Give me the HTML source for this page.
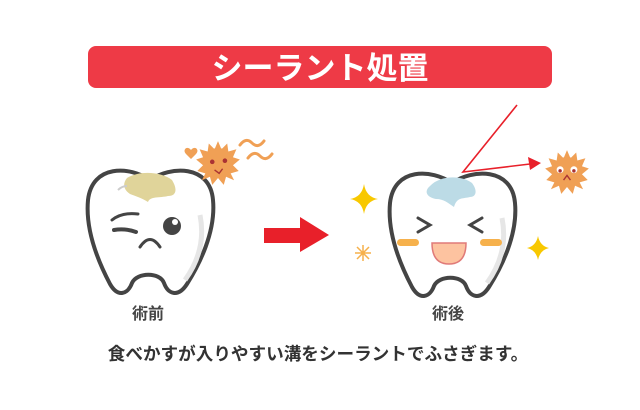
<!DOCTYPE html>
<html><head><meta charset="utf-8"><style>
html,body{margin:0;padding:0;background:#fff;width:640px;height:410px;overflow:hidden}
svg{display:block}
text{font-family:"Liberation Sans","Noto Sans CJK JP",sans-serif;font-weight:bold}
</style></head><body>
<svg width="640" height="410" viewBox="0 0 640 410">
<defs>
<path id="tooth" d="M150 180 C130 166,92 164,88 200 C85 232,100 265,110 284 C118 298,128 294,132 283 C137 272,160 272,164 283 C168 294,178 298,187 284 C199 265,216 232,213 200 C210 164,170 166,150 180 Z"/>
<g id="bac">
<circle r="13" fill="#f0a055"/>
<path d="M0-19 L3-12 L8-17 L9-10 L16-12 L13-5 L19-3 L13 2 L18 7 L11 9 L14 15 L7 12 L5 19 L0 13 L-5 19 L-7 12 L-14 15 L-11 9 L-18 7 L-13 2 L-19-3 L-13-5 L-16-12 L-9-10 L-8-17 L-3-12Z" fill="#f0a055"/>
</g>
</defs>
<rect x="88" y="46" width="464" height="42" rx="8" fill="#ee3a46"/>
<text x="320" y="79" font-size="31" fill="#fff" text-anchor="middle">シーラント処置</text>

<use href="#tooth" fill="#fff" stroke="#444" stroke-width="4"/>
<path d="M200 215 C205 240,198 262,185 280" stroke="#e6e6e6" stroke-width="5" fill="none"/>
<path d="M127 178 C140 170,162 172,172 180 C178 190,176 196,168 196 C160 198,150 196,148 202 C142 198,135 196,130 194 C124 190,122 184,127 178Z" fill="#e0d49a"/>
<path d="M118 190 Q122 186,127 186" stroke="#ccc" stroke-width="2" fill="none"/>
<path d="M112 220 Q122 212,138 214" stroke="#444" stroke-width="3" fill="none" stroke-linecap="round"/>
<path d="M114 230 Q125 228,136 232" stroke="#444" stroke-width="4" fill="none" stroke-linecap="round"/>
<circle cx="172" cy="226" r="9" fill="#444"/><circle cx="175" cy="222" r="3" fill="#fff"/>
<path d="M140 247 Q150 232,160 247" stroke="#444" stroke-width="3" fill="none" stroke-linecap="round"/>
<g transform="translate(218,163) scale(1.15)"><use href="#bac"/>
<circle cx="-5" cy="-1" r="2" fill="#a33"/><circle cx="6" cy="-2" r="2" fill="#a33"/>
<path d="M-3 6 L1 9 L4 5" stroke="#a33" stroke-width="1.2" fill="none"/></g>
<path d="M191 150 c-4-5-9 0-5 4l5 5 5-5c4-4-1-9-5-4z" fill="#f0a055"/>
<path d="M240 145 q6-8 12-2 q6 6 12-2" stroke="#f0a055" stroke-width="3" fill="none" stroke-linecap="round"/>
<path d="M248 158 q6-8 12-2 q6 6 12-2" stroke="#f0a055" stroke-width="3" fill="none" stroke-linecap="round"/>

<polygon points="264,228 300,228 300,217 329,235 300,252 300,243 264,243" fill="#e8202a"/>

<g transform="translate(302,3)">
<use href="#tooth" fill="#fff" stroke="#444" stroke-width="4"/>
<path d="M200 215 C205 240,198 262,185 280" stroke="#e6e6e6" stroke-width="5" fill="none"/>
<path d="M128 183 C138 172,160 172,170 180 C176 188,174 194,168 194 C160 196,155 194,152 204 C146 200,142 196,134 196 C124 194,122 188,128 183Z" fill="#bcdbe6"/>
</g>
<path d="M418 218 l12 7 -12 7 M482 218 l-12 7 12 7" stroke="#444" stroke-width="3" fill="none" stroke-linecap="round"/>
<rect x="397" y="239" width="22" height="7" rx="3.5" fill="#f6b14c"/>
<rect x="480" y="239" width="22" height="7" rx="3.5" fill="#f6b14c"/>
<path d="M432 243 L466 243 Q466 264 449 264 Q432 264 432 243Z" fill="#fdc3a0" stroke="#e07a78" stroke-width="1.5"/>
<path d="M364 184 Q366 197 378 199 Q366 201 364 214 Q362 201 350 199 Q362 197 364 184Z" fill="#f8c800"/>
<path d="M538 236 Q540 246 549 248 Q540 250 538 260 Q536 250 527 248 Q536 246 538 236Z" fill="#f8c800"/>
<g stroke="#f6b14c" stroke-width="1.5"><path d="M363 245 v16 M355 253 h16 M357 247 l12 12 M369 247 l-12 12"/></g>
<polyline points="517,105 463,172 530,164" stroke="#e8202a" stroke-width="1.6" fill="none"/>
<polygon points="541,163 528,157 530,170" fill="#e8202a"/>
<g transform="translate(567,172) scale(1.15)"><use href="#bac"/>
<circle cx="-6" cy="-2" r="3" fill="#fff"/><circle cx="6" cy="-2" r="3" fill="#fff"/>
<circle cx="-6" cy="-1" r="1.5" fill="#a33"/><circle cx="6" cy="-1" r="1.5" fill="#a33"/>
<path d="M-3 7 L0 3 L3 7" stroke="#a33" stroke-width="1.2" fill="none"/></g>

<text x="148" y="319" font-size="16" fill="#444" text-anchor="middle">術前</text>
<text x="448" y="319" font-size="16" fill="#444" text-anchor="middle">術後</text>
<text x="318" y="360" font-size="17.6" fill="#333" text-anchor="middle">食べかすが入りやすい溝をシーラントでふさぎます。</text>
</svg>
</body></html>
